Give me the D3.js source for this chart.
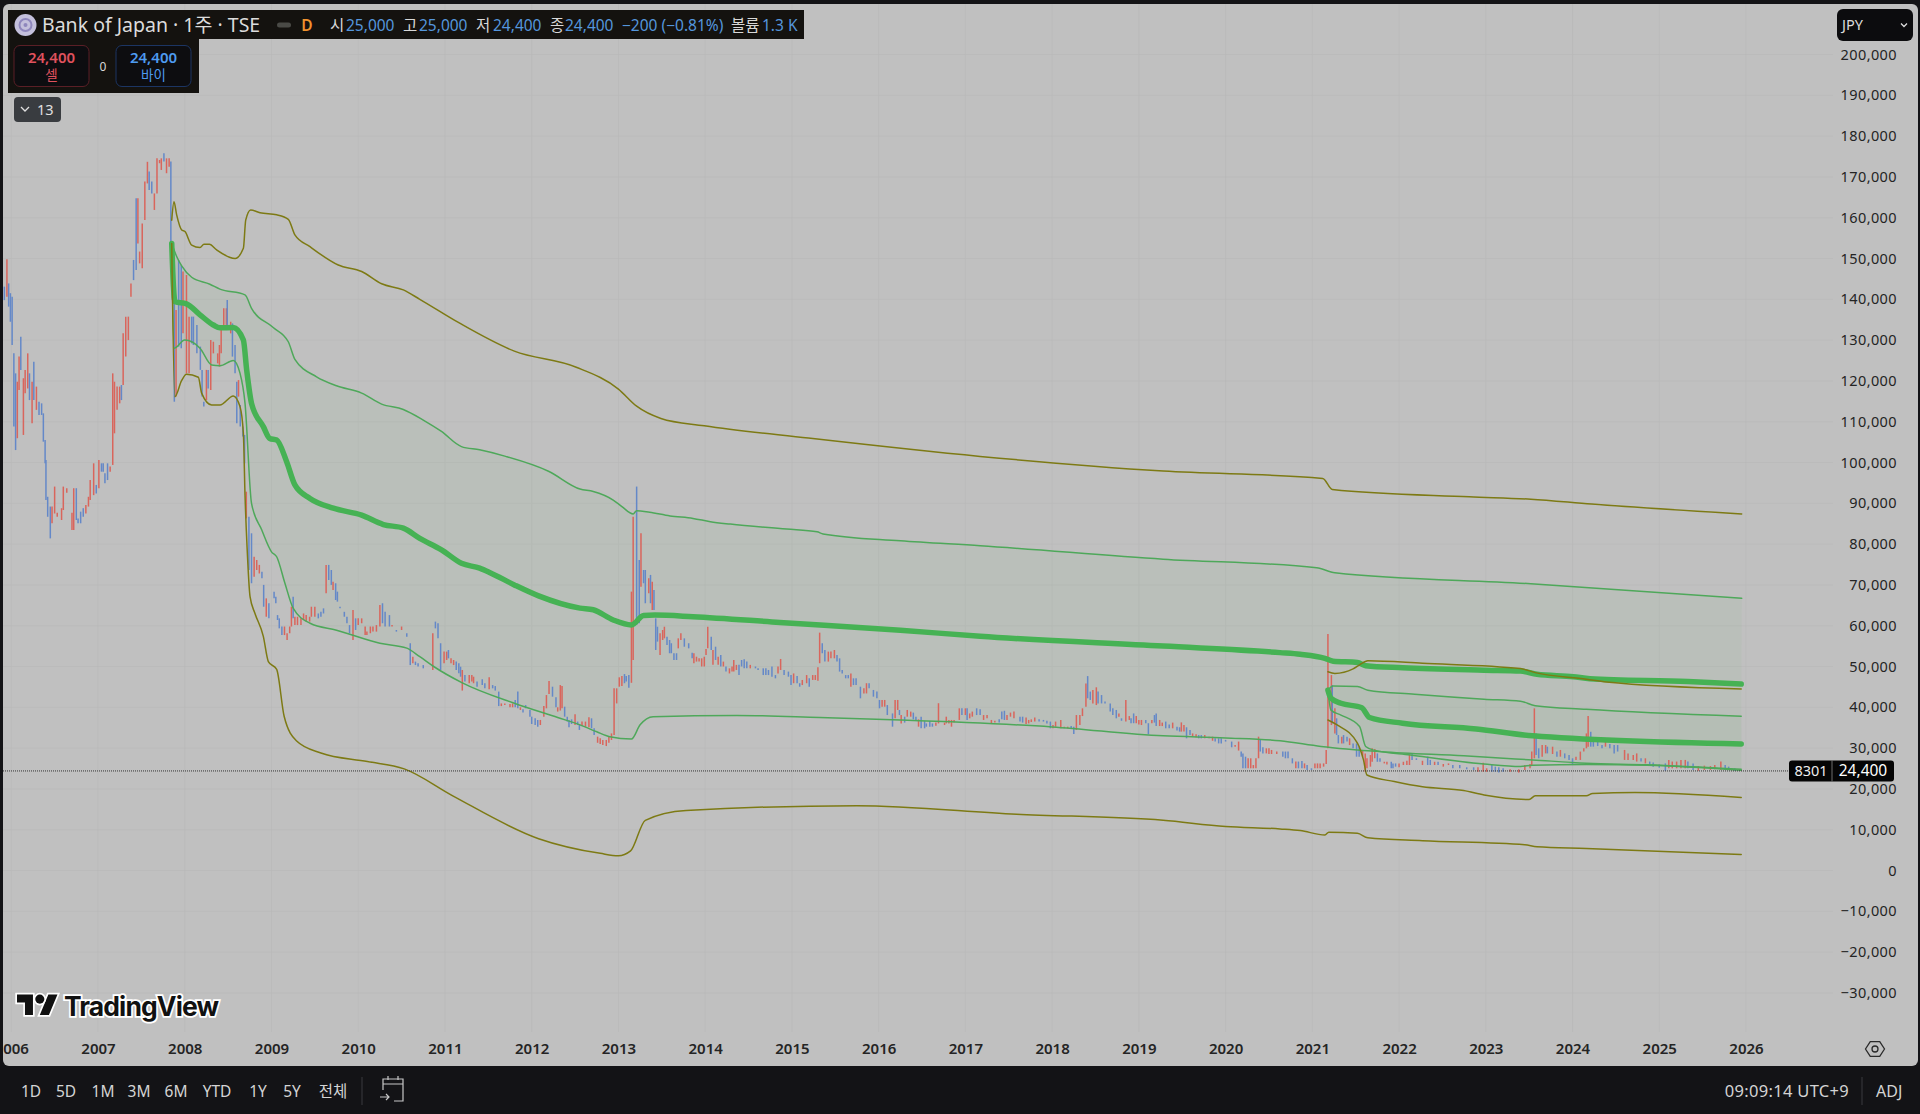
<!DOCTYPE html>
<html>
<head>
<meta charset="utf-8">
<script src="https://cdnjs.cloudflare.com/ajax/libs/d3/7.9.0/d3.min.js"></script>
<style>
  html, body { margin: 0; padding: 0; background: #131316; }
  svg { display: block; }
  text { font-family: "Noto Sans", "Noto Sans CJK KR", sans-serif; }
  .axis path, .axis line { display: none; }
  .axis text { fill: #242424; font-family: "Noto Sans", sans-serif; }
</style>
</head>
<body>
<svg id="chart" width="1920" height="1114"></svg>
<script>
// tick labels
const yearTicks = d3.range(2006, 2027);
const priceTicks = d3.range(-30000, 200001, 10000);
const rangeButtons = ['1D', '5D', '1M', '3M', '6M', 'YTD', '1Y', '5Y', '전체'];

// price bars: [year, low, high, direction]
const bars2006 = [
  [2005.92,139800,143100,-1],[2005.95,140650,149800,1],[2005.97,138200,143900,-1],[2005.99,134500,141500,-1],[2006.01,128800,140650,-1],
  [2006.03,108800,126750,-1],[2006.05,103050,121850,-1],[2006.07,105950,119800,1],[2006.09,117750,125950,1],[2006.11,122700,130850,-1],
  [2006.14,106750,120650,1],[2006.16,116950,122700,1],[2006.19,118150,126750,1],[2006.21,115300,121850,-1],[2006.24,109600,119800,1],
  [2006.26,115300,124700,-1],[2006.29,112900,118600,1],[2006.32,111650,114900,-1],[2006.35,111650,114500,-1],[2006.37,105100,112050,-1],
  [2006.39,99800,105500,-1],[2006.40,90800,100600,-1],[2006.42,86700,91600,-1],[2006.45,81400,89200,-1],[2006.47,85100,89200,1],
  [2006.50,87500,94100,1],[2006.53,86700,87700,1],[2006.58,85900,88800,1],[2006.60,88350,94100,1],[2006.64,92600,93700,1],
  [2006.70,83450,87700,1],[2006.72,83450,93700,1],[2006.75,85900,93700,-1],[2006.77,85100,86300,-1],[2006.80,85100,87950,-1],
  [2006.83,86700,88800,-1],[2006.86,87500,89600,1],[2006.89,89200,91600,1],[2006.91,90800,95700,1],[2006.95,92000,99800,1],
  [2006.98,92400,94500,-1]
];
const bars2007 = [
  [2007.01,93700,100600,1],[2007.04,97750,99800,-1],[2007.06,97750,99800,-1],[2007.08,94900,97350,-1],[2007.11,95700,99800,-1],
  [2007.14,97750,99000,1],[2007.17,99400,121850,1],[2007.19,107150,119800,1],[2007.22,112900,118600,1],[2007.25,114500,118600,1],
  [2007.27,115300,119000,-1],[2007.29,119000,131650,1],[2007.32,125950,135750,1],[2007.35,130000,135750,1],[2007.38,140650,143900,1],
  [2007.41,144700,149650,-1],[2007.44,147200,164750,-1],[2007.46,153700,164750,1],[2007.48,148800,151700,1],[2007.51,147600,158600,1],
  [2007.54,159450,168850,1],[2007.57,168400,173700,1],[2007.59,166800,171300,-1],[2007.62,165950,168850,-1],[2007.65,161900,165950,1],
  [2007.68,165950,174550,1],[2007.71,173350,174150,1],[2007.73,171700,174550,1],[2007.76,173750,175800,-1],[2007.79,170900,174550,1],
  [2007.82,172500,174550,1],[2007.84,152900,173750,-1],[2007.86,139800,153700,-1],[2007.88,114900,139800,-1],[2007.90,116150,137400,1],
  [2007.93,128400,149650,-1],[2007.96,128000,148400,-1],[2007.98,131650,146800,1]
];
const bars2008 = [
  [2008.02,121850,145950,1],[2008.05,121850,135750,1],[2008.08,129200,135750,-1],[2008.10,128800,135750,-1],[2008.14,126750,133700,-1],
  [2008.18,122700,128400,-1],[2008.20,116150,122700,-1],[2008.22,113700,114900,-1],[2008.25,115300,122700,1],[2008.27,118150,122700,-1],
  [2008.30,117750,130000,1],[2008.33,126750,129600,1],[2008.38,124300,126750,1],[2008.40,123500,128800,1],[2008.42,126750,133300,1],
  [2008.45,133300,137800,1],[2008.48,132500,137800,1],[2008.49,132500,139800,-1],[2008.53,131650,134500,1],[2008.55,125950,134100,-1],
  [2008.58,121850,128800,-1],[2008.60,109600,119800,-1],[2008.62,116150,120200,1],[2008.64,108800,114100,-1],[2008.67,106350,108800,-1],
  [2008.69,99800,106750,-1],[2008.71,86300,92850,1],[2008.74,73650,86700,-1],[2008.77,70400,82650,-1],[2008.80,72000,76900,1],
  [2008.83,73650,76100,1],[2008.86,72800,74900,1],[2008.89,71600,73250,-1],[2008.91,64650,70000,-1],[2008.94,62200,66700,1],
  [2008.97,61800,65500,-1]
];
const bars2009 = [
  [2009.03,66700,68350,-1],[2009.05,65500,67100,-1],[2009.07,61400,62600,-1],[2009.09,59350,61800,-1],[2009.12,57700,59800,-1],
  [2009.15,57700,59800,1],[2009.18,56500,58150,1],[2009.21,58150,59800,1],[2009.23,59800,64650,1],[2009.25,61800,67100,-1],
  [2009.27,60150,62200,1],[2009.30,60150,62200,1],[2009.34,60150,61800,1],[2009.37,61400,63000,1],[2009.40,61000,62600,1],
  [2009.44,61000,62200,1],[2009.46,62200,64650,1],[2009.50,62200,64650,1],[2009.54,61800,63000,-1],[2009.57,62200,63400,-1],
  [2009.60,63000,64250,-1],[2009.63,67950,74900,1],[2009.66,71200,74900,-1],[2009.69,70000,73650,-1],[2009.71,68750,70800,1],
  [2009.74,66300,70400,-1],[2009.76,65900,68350,-1],[2009.79,64250,64650,-1],[2009.84,62200,63400,-1],[2009.87,60600,62200,-1],
  [2009.90,58150,60150,-1],[2009.94,56500,63850,1],[2009.97,58950,61800,-1]
];
const bars2010 = [
  [2010.00,60150,61800,1],[2010.04,60600,61800,1],[2010.08,57700,59800,1],[2010.10,57700,58550,1],[2010.14,58150,59800,1],
  [2010.17,58550,59800,1],[2010.21,58550,60150,1],[2010.25,59800,65100,1],[2010.28,60600,65500,-1],[2010.31,59800,63400,-1],
  [2010.36,59800,62600,-1],[2010.39,59800,60150,1],[2010.44,58550,58950,-1],[2010.50,58950,59800,1],[2010.56,57300,58150,-1],
  [2010.60,50350,55700,-1],[2010.63,50800,52400,1],[2010.66,50350,51200,-1],[2010.69,50000,50800,-1],[2010.75,49550,50350,-1],
  [2010.86,49150,58150,1],[2010.89,59350,61000,-1],[2010.92,56900,60600,-1],[2010.95,49150,55700,-1],[2010.99,50800,53650,1]
];
const bars2011 = [
  [2011.02,51600,53650,1],[2011.04,52000,54050,-1],[2011.07,50800,52000,1],[2011.10,50350,51600,1],[2011.13,49150,51200,-1],
  [2011.16,48350,50800,-1],[2011.18,47500,49950,-1],[2011.20,44100,49150,1],[2011.23,46300,47900,-1],[2011.28,45900,47900,1],
  [2011.31,46300,47900,1],[2011.33,45900,47500,1],[2011.37,45050,46300,-1],[2011.43,45450,46850,-1],[2011.46,44650,45900,-1],
  [2011.51,44400,47350,1],[2011.55,44650,45450,-1],[2011.58,44100,45200,-1],[2011.62,40300,43850,-1],[2011.65,40300,40950,1],
  [2011.69,40550,40950,1],[2011.75,40000,40800,1],[2011.78,40000,40950,1],[2011.81,40000,41800,-1],[2011.84,39750,43850,-1],
  [2011.87,39350,40000,1],[2011.90,38700,39500,-1],[2011.93,39750,40550,-1],[2011.98,37700,39350,-1]
];
const bars2012 = [
  [2012.00,35900,37700,-1],[2012.04,35650,37300,-1],[2012.07,35250,36900,-1],[2012.10,35650,36900,1],[2012.14,37700,40300,1],
  [2012.17,39750,43000,1],[2012.20,43250,46450,1],[2012.24,42600,45050,-1],[2012.28,40000,42450,-1],[2012.30,38950,40000,1],
  [2012.33,39200,45450,1],[2012.35,39750,45200,1],[2012.38,37700,40150,-1],[2012.41,36500,37700,-1],[2012.43,35100,36900,-1],
  [2012.46,35900,37050,-1],[2012.50,35650,38300,1],[2012.53,35650,36500,-1],[2012.55,34450,35800,-1],[2012.58,35400,36500,1],
  [2012.62,35250,36500,1],[2012.66,35100,37550,1],[2012.69,34850,37300,-1],[2012.72,33200,34850,-1],[2012.76,31300,32800,1],
  [2012.79,31000,32400,1],[2012.82,30750,32000,1],[2012.86,30500,32000,1],[2012.89,31300,32800,1],[2012.92,32000,33600,1],
  [2012.95,33200,44650,1],[2012.98,40950,44650,1]
];
const bars2013 = [
  [2013.01,45050,47350,1],[2013.04,45200,47700,1],[2013.07,45900,48150,-1],[2013.09,46300,47700,-1],[2013.12,44800,47900,-1],
  [2013.15,46000,68350,1],[2013.17,51600,86700,1],[2013.21,60200,94100,-1],[2013.24,60600,76100,-1],[2013.26,69550,82650,1],
  [2013.29,70400,73650,-1],[2013.31,65500,73650,-1],[2013.35,67950,71600,1],[2013.37,65500,72450,-1],[2013.39,63850,70800,1],
  [2013.41,63850,68750,-1],[2013.43,54050,61800,-1],[2013.45,56100,59750,-1],[2013.48,52800,58150,1],[2013.51,56500,58950,1],
  [2013.53,56900,59750,1],[2013.56,55300,57300,-1],[2013.59,53250,56500,-1],[2013.61,53250,55700,-1],[2013.64,51600,53250,-1],
  [2013.67,51600,53250,-1],[2013.69,54450,56900,1],[2013.72,56500,58150,1],[2013.76,54850,56900,-1],[2013.81,54450,55700,-1],
  [2013.85,52000,53400,-1],[2013.87,50800,53250,1],[2013.90,51200,52400,1],[2013.93,51200,52000,1],[2013.96,50000,52000,1],
  [2013.99,50000,52400,1]
];
const bars2014 = [
  [2014.01,52800,54300,1],[2014.03,54450,59750,1],[2014.07,54050,57300,-1],[2014.09,50400,54050,1],[2014.12,51600,54850,-1],
  [2014.15,50400,52400,1],[2014.18,50000,52800,-1],[2014.21,50000,51200,1],[2014.24,48750,50000,-1],[2014.28,48300,49550,1],
  [2014.31,48750,50000,1],[2014.33,48750,51600,1],[2014.36,49150,50400,1],[2014.39,47900,50400,-1],[2014.42,50000,51600,-1],
  [2014.45,49550,51750,-1],[2014.48,49550,51200,-1],[2014.52,49550,50400,1],[2014.58,49550,50000,-1],[2014.61,49150,49550,-1],
  [2014.67,47900,49550,-1],[2014.70,47900,49550,-1],[2014.73,47900,49150,-1],[2014.77,47500,50000,-1],[2014.81,47100,47900,-1],
  [2014.84,48300,50000,1],[2014.87,49150,51850,1],[2014.91,47900,49150,-1],[2014.96,47500,48750,-1],[2014.99,45450,47900,-1]
];
const bars2015 = [
  [2015.02,45900,48300,1],[2015.06,45900,47700,-1],[2015.09,45050,45900,-1],[2015.12,45450,46700,1],[2015.17,45900,47900,1],
  [2015.20,45050,47100,-1],[2015.24,46700,47900,1],[2015.27,46700,47900,1],[2015.30,46500,49800,1],[2015.32,50800,58300,1],
  [2015.35,53250,55700,-1],[2015.38,51200,54050,-1],[2015.42,51200,53650,1],[2015.45,52000,53650,1],[2015.49,52000,54050,1],
  [2015.52,51200,52800,-1],[2015.55,48750,52000,-1],[2015.58,48300,49150,-1],[2015.62,47100,47900,-1],[2015.65,47100,47900,-1],
  [2015.68,45050,48300,1],[2015.71,45450,47100,-1],[2015.74,45450,47100,-1],[2015.79,42200,45050,-1],[2015.83,43400,44650,1],
  [2015.86,43400,45900,1],[2015.89,44650,45900,-1],[2015.94,42600,44250,-1],[2015.98,42200,43850,-1]
];
const bars2016 = [
  [2016.01,39750,41800,-1],[2016.04,40150,41800,1],[2016.07,40150,41800,1],[2016.10,38100,40550,-1],[2016.16,35250,38500,-1],
  [2016.19,37300,41800,1],[2016.22,39350,41800,1],[2016.24,38100,39350,-1],[2016.26,36050,38100,1],[2016.30,36250,37700,-1],
  [2016.33,37700,39350,1],[2016.37,37700,38950,1],[2016.40,37050,38700,-1],[2016.43,36900,37700,-1],[2016.46,35250,37050,1],
  [2016.49,34850,37700,-1],[2016.53,34850,36650,-1],[2016.55,35250,36050,-1],[2016.59,35250,36650,-1],[2016.62,35250,36050,-1],
  [2016.66,35500,36250,1],[2016.69,36050,41000,1],[2016.76,35650,36250,1],[2016.78,36050,37700,1],[2016.81,36050,36900,1],
  [2016.84,35250,36900,1],[2016.87,36250,36900,1],[2016.93,36900,39750,1],[2016.96,38100,39750,-1]
];
const bars2017 = [
  [2017.00,38100,39750,1],[2017.02,36900,39750,-1],[2017.05,37300,38500,1],[2017.08,37700,38950,1],[2017.13,38100,39750,-1],
  [2017.17,38100,39500,-1],[2017.21,36900,38100,1],[2017.25,37300,38100,1],[2017.30,36050,36900,1],[2017.34,36300,36700,1],
  [2017.39,36250,37050,-1],[2017.42,37050,38950,-1],[2017.45,36900,39150,-1],[2017.48,36900,38100,1],[2017.52,37700,38700,1],
  [2017.56,37300,38950,1],[2017.63,36500,37700,-1],[2017.66,36250,37700,-1],[2017.70,35900,37500,1],[2017.73,36050,36900,1],
  [2017.76,36400,37050,1],[2017.80,36500,37500,1],[2017.85,36500,37050,-1],[2017.90,36500,36900,-1],[2017.94,36050,36700,-1],
  [2017.98,34850,36500,-1]
];
const bars2018 = [
  [2018.01,34850,35650,1],[2018.04,35250,36500,1],[2018.10,34850,36900,1],[2018.14,34850,35250,1],[2018.18,34850,35250,1],
  [2018.22,34850,35400,-1],[2018.25,33450,35250,-1],[2018.28,34450,38100,1],[2018.32,35650,38100,1],[2018.35,37850,39750,1],
  [2018.39,40150,45850,1],[2018.41,42200,47650,-1],[2018.44,41800,43850,-1],[2018.47,40950,44250,1],[2018.51,40550,44900,1],
  [2018.53,40950,43850,-1],[2018.57,40950,43000,-1],[2018.61,40950,41400,-1],[2018.67,38950,40950,-1],[2018.70,38100,39750,-1],
  [2018.74,37300,39350,-1],[2018.77,37700,38500,1],[2018.80,36700,37300,-1],[2018.85,36500,41800,1],[2018.89,36900,37850,1],
  [2018.91,36100,37300,-1],[2018.94,36100,38500,-1],[2018.97,36100,37850,1]
];
const bars2019 = [
  [2019.00,35800,36900,1],[2019.03,35650,36900,1],[2019.08,36100,36900,-1],[2019.11,33400,36100,-1],[2019.15,36100,36900,1],
  [2019.18,36250,38100,-1],[2019.20,35400,38500,-1],[2019.24,35400,36900,1],[2019.27,35400,36250,1],[2019.31,34850,36500,-1],
  [2019.35,34850,35800,-1],[2019.39,34850,36250,1],[2019.44,34300,35250,-1],[2019.47,34050,35100,-1],[2019.49,34050,36300,1],
  [2019.52,34050,35650,1],[2019.55,32400,35100,-1],[2019.59,33200,34450,-1],[2019.62,32950,33600,1],[2019.66,32650,33400,1],
  [2019.69,32400,33200,-1],[2019.72,32400,33200,-1],[2019.76,32400,33200,1],[2019.81,32400,32800,1],[2019.85,31800,32800,1],
  [2019.88,31600,32400,-1],[2019.92,31150,32400,-1],[2019.95,31150,32400,-1]
];
const bars2020 = [
  [2020.00,31600,32000,-1],[2020.07,30200,31600,-1],[2020.11,30350,30750,1],[2020.15,29400,31600,1],[2020.18,27900,29150,-1],
  [2020.20,25050,28700,-1],[2020.23,25050,27900,-1],[2020.26,25050,27500,1],[2020.29,25050,27500,1],[2020.32,25050,25850,1],
  [2020.35,25050,27500,1],[2020.38,27500,32800,1],[2020.40,29150,32000,-1],[2020.43,28700,30200,-1],[2020.47,28700,29950,1],
  [2020.50,28550,29950,1],[2020.53,28550,29550,1],[2020.59,28550,29150,1],[2020.66,27900,29150,-1],[2020.69,27500,29150,-1],
  [2020.72,27500,29150,-1],[2020.77,26250,27500,-1],[2020.81,25050,26700,1],[2020.84,25050,26700,-1],[2020.88,25050,26850,-1],
  [2020.91,25050,26250,1],[2020.94,24650,25850,-1],[2020.99,24650,25050,-1]
];
const bars2021 = [
  [2021.03,25050,26250,1],[2021.06,25050,26250,1],[2021.09,25050,26250,1],[2021.13,25450,26250,1],[2021.16,26100,29550,1],
  [2021.18,29950,57950,1],[2021.22,35650,47900,1],[2021.23,36050,45450,-1],[2021.26,33600,39750,1],[2021.28,33200,37300,-1],
  [2021.30,31150,33200,-1],[2021.34,31150,32800,1],[2021.36,31150,33200,-1],[2021.40,31600,32800,-1],[2021.43,30750,32400,1],
  [2021.47,29950,31150,-1],[2021.51,27900,31150,-1],[2021.54,27900,30350,-1],[2021.58,27900,29550,1],[2021.61,24200,28700,1],
  [2021.63,25050,27500,1],[2021.67,25450,28300,1],[2021.69,26650,29950,1],[2021.72,27500,29800,1],[2021.75,26650,28700,-1],
  [2021.78,26650,27500,-1],[2021.83,26250,26650,1],[2021.86,26000,26650,1],[2021.91,25050,26650,-1],[2021.93,25050,26250,-1],
  [2021.96,25450,26250,-1]
];
const bars2022 = [
  [2022.00,25300,26250,1],[2022.05,25850,26650,1],[2022.09,25850,26900,1],[2022.12,25850,28700,1],[2022.15,27100,28700,-1],
  [2022.20,27100,27500,-1],[2022.27,25850,26900,1],[2022.33,25850,27900,-1],[2022.36,25850,27100,-1],[2022.41,25850,26650,1],
  [2022.45,25850,26650,-1],[2022.51,25450,26100,1],[2022.57,25850,26250,1],[2022.62,25050,25850,-1],[2022.70,25050,25850,-1],
  [2022.78,24800,25300,-1],[2022.86,24650,25300,-1],[2022.91,24200,25300,1],[2022.97,24200,26400,1]
];
const bars2023 = [
  [2023.01,24200,25050,1],[2023.07,24200,25850,-1],[2023.11,24200,25450,-1],[2023.15,24000,25300,-1],[2023.20,24200,25050,-1],
  [2023.28,24200,24800,1],[2023.38,24000,24800,1],[2023.45,24650,25850,1],[2023.51,25050,26100,1],[2023.53,25850,29150,1],
  [2023.56,27500,39750,1],[2023.58,28300,33600,-1],[2023.61,27500,29950,-1],[2023.65,27900,30750,1],[2023.69,28700,30750,1],
  [2023.71,28700,30350,-1],[2023.77,28550,30350,1],[2023.82,27900,29150,-1],[2023.86,27900,29550,1],[2023.91,27500,28700,-1],
  [2023.96,27100,28300,-1]
];
const bars2024 = [
  [2024.00,25850,27500,-1],[2024.04,27100,27900,1],[2024.09,27100,29150,1],[2024.13,29150,29950,1],[2024.16,29950,33600,1],
  [2024.18,30350,37850,1],[2024.21,30350,34000,-1],[2024.24,30350,32400,-1],[2024.29,30500,32400,-1],[2024.34,29950,30750,-1],
  [2024.38,30350,31600,1],[2024.43,29950,31000,-1],[2024.48,28700,30750,-1],[2024.52,29150,30750,-1],[2024.60,27100,29550,1],
  [2024.64,27100,28700,1],[2024.70,27100,28300,1],[2024.74,26700,28700,1],[2024.79,26700,27500,-1],[2024.84,26250,27500,1],
  [2024.89,26100,26700,-1],[2024.93,25450,26450,-1]
];
const bars2025 = [
  [2025.00,25200,26000,-1],[2025.07,24450,26250,-1],[2025.11,25050,27100,1],[2025.15,25050,26700,1],[2025.20,25050,26700,1],
  [2025.25,25050,27100,1],[2025.30,25050,27100,1],[2025.33,25050,26700,-1],[2025.39,24650,26250,-1],[2025.45,24450,25600,1],
  [2025.52,24650,25700,1],[2025.59,24650,25600,1],[2025.64,24800,25850,1],[2025.71,24650,26700,1],[2025.76,24650,25850,-1],
  [2025.80,24650,25450,-1],[2025.87,24450,25050,-1],[2025.93,24400,24850,1]
];

// anchored band from late 2007: [year, price]
const upperOuter2007 = [
  [2007.85,159400],[2007.876,163900],[2007.907,160700],[2007.965,157000],[2008.003,156600],[2008.08,153300],[2008.176,152700],
  [2008.222,153500],[2008.284,153500],[2008.368,152100],[2008.58,150000],[2008.676,152500],[2008.703,159400],[2008.76,161900],
  [2008.868,161200],[2009.06,160700],[2009.194,159600],[2009.27,155800],[2009.444,152900],[2009.77,148400],[2010.04,146800],
  [2010.27,143800],[2010.52,142300],[2010.71,140000],[2011.165,134200],[2011.80,127300],[2012.506,123400],[2013.0,118000],
  [2013.21,113800],[2013.49,110800],[2013.99,109000],[2015.19,106000],[2017.17,101500],[2019.28,97900],[2021.12,96100],
  [2021.23,93400],[2022.81,91600],[2023.52,91000],[2024.22,89800],[2025.95,87400]
];
const upperInner2007 = [
  [2007.85,153700],[2007.907,150500],[2007.965,148200],[2008.08,145400],[2008.29,143700],[2008.406,142500],[2008.695,141100],
  [2008.77,137800],[2009.02,133100],[2009.194,129600],[2009.27,125300],[2009.52,121000],[2009.75,118800],[2010.04,117000],
  [2010.27,114300],[2010.52,113000],[2010.75,110400],[2010.96,107600],[2011.19,103900],[2011.40,103100],[2011.7,101500],
  [2012.2,97800],[2012.557,93500],[2012.71,92900],[2012.94,90800],[2013.04,89200],[2013.17,87400],[2013.21,88200],
  [2013.36,87800],[2013.595,86900],[2013.86,86300],[2014.06,85500],[2014.29,84900],[2014.94,83700],[2015.29,83000],
  [2015.36,82500],[2016.25,80800],[2017.17,79600],[2019.28,76300],[2021.05,74200],[2021.26,73000],[2023.52,70300],[2025.95,66700]
];
const vwap2007 = [
  [2007.85,153700],[2007.87,143100],[2007.888,139400],[2008.02,138900],[2008.176,136200],[2008.33,133700],[2008.406,133000],
  [2008.56,133100],[2008.676,130000],[2008.714,122700],[2008.77,114500],[2008.906,108800],[2008.98,105900],[2009.06,105500],
  [2009.175,100200],[2009.27,94500],[2009.444,91200],[2009.713,88800],[2010.04,87100],[2010.29,84800],[2010.52,83900],
  [2010.71,81400],[2010.96,78600],[2011.19,75300],[2011.40,74100],[2011.52,73000],[2011.80,70000],[2012.08,67300],
  [2012.557,64300],[2012.71,63900],[2012.94,61400],[2013.15,60200],[2013.29,62500],[2013.42,62600],[2013.86,62200],
  [2014.86,60800],[2016.25,58900],[2017.17,57400],[2019.28,55000],[2020.627,53400],[2020.86,53000],[2021.145,52000],
  [2021.24,51300],[2021.52,51000],[2021.615,50200],[2022.04,49700],[2022.98,49100],[2023.4,48900],[2023.59,48100],
  [2024.01,47500],[2024.2,47000],[2025.33,46300],[2025.945,45700]
];
const lowerInner2007 = [
  [2007.85,153700],[2007.876,128000],[2008.0,130000],[2008.176,128000],[2008.31,123900],[2008.406,123700],[2008.56,125000],
  [2008.637,121900],[2008.695,114500],[2008.77,90000],[2008.887,83500],[2009.0,78100],[2009.06,76900],[2009.155,70400],
  [2009.25,64300],[2009.445,60600],[2009.75,58900],[2010.25,55700],[2010.56,54500],[2010.71,52400],[2010.87,50000],
  [2011.2,46000],[2011.8,41000],[2012.3,37500],[2012.557,35700],[2012.75,34000],[2012.9,32800],[2013.15,32200],[2013.25,35700],
  [2013.4,37700],[2014.36,38000],[2015.32,37500],[2016.25,36900],[2018.0,35200],[2019.28,33000],[2020.0,32500],[2020.627,31800],
  [2021.1,30400],[2021.8,29100],[2022.745,28100],[2023.54,27100],[2024.16,26300],[2024.86,25900],[2025.945,24800]
];
const lowerOuter2007 = [
  [2007.85,153700],[2007.885,116100],[2007.965,120100],[2008.02,121600],[2008.157,120900],[2008.195,117000],[2008.31,114100],
  [2008.406,114100],[2008.56,116300],[2008.637,113700],[2008.676,107150],[2008.695,92000],[2008.72,78600],[2008.753,67100],
  [2008.81,63000],[2008.906,57400],[2008.964,51200],[2009.06,49300],[2009.146,37800],[2009.287,31800],[2009.57,28800],
  [2010.106,26700],[2010.53,24900],[2011.09,18300],[2012.08,7800],[2012.79,4200],[2013.0,3600],[2013.14,4800],[2013.31,12300],
  [2013.78,14700],[2015.75,15900],[2017.59,13800],[2019.28,12300],[2020.0,10800],[2020.627,10200],[2020.86,9800],[2021.145,8700],
  [2021.19,9400],[2021.52,9100],[2021.64,8000],[2022.27,7300],[2023.45,6300],[2023.59,5800],[2024.16,5400],[2025.945,3900]
];

// anchored band from early 2021
const upperOuter2021 = [
  [2021.18,48700],[2021.26,48300],[2021.47,49400],[2021.545,50400],[2021.64,51400],[2022.27,50800],[2023.4,49500],
  [2023.57,48500],[2024.16,46900],[2024.39,46200],[2025.945,44500]
];
const upperInner2021 = [
  [2021.18,44200],[2021.24,45200],[2021.52,45100],[2021.64,44200],[2022.18,43200],[2022.98,42000],[2023.4,41500],
  [2023.57,40400],[2024.16,39500],[2025.945,37800]
];
const vwap2021 = [
  [2021.18,44200],[2021.215,42200],[2021.33,41000],[2021.57,39900],[2021.66,37500],[2022.04,36100],[2022.89,34700],
  [2023.54,33000],[2025.945,31000]
];
const lowerInner2021 = [
  [2021.18,44200],[2021.215,39300],[2021.33,38100],[2021.545,35300],[2021.615,30400],[2021.71,29500],[2022.13,28300],
  [2022.98,26100],[2023.4,25500],[2023.54,25800],[2024.16,26000],[2024.86,25800],[2025.945,24600]
];
const lowerOuter2021 = [
  [2021.18,36900],[2021.286,35700],[2021.52,31200],[2021.59,27100],[2021.63,23400],[2021.945,21800],[2022.27,20500],
  [2022.745,19600],[2022.98,18500],[2023.5,17400],[2023.57,18300],[2024.16,18300],[2024.23,18900],[2024.72,19100],[2025.945,17900]
];
const lastPrice = 24400;

const priceBars = [].concat(bars2006, bars2007, bars2008, bars2009, bars2010, bars2011, bars2012, bars2013, bars2014,
  bars2015, bars2016, bars2017, bars2018, bars2019, bars2020, bars2021, bars2022, bars2023, bars2024, bars2025);

const svg = d3.select('#chart');
const plot = { left: 3, top: 4, right: 1833, bottom: 1032 };

const x = d3.scaleLinear().domain([2007, 2026]).range([98, 1746]);
const y = d3.scaleLinear().domain([0, 200000]).range([870.5, 54.5]);

svg.append('defs').append('clipPath').attr('id', 'plot-clip')
  .append('rect').attr('x', 3).attr('y', 4).attr('width', 1915).attr('height', 1062);

// panel
svg.append('rect').attr('width', 1920).attr('height', 1114).attr('fill', '#131316');
svg.append('rect').attr('x', 3).attr('y', 4).attr('width', 1915).attr('height', 1062)
  .attr('rx', 6).attr('fill', '#c0c0c0');

const chart = svg.append('g').attr('clip-path', 'url(#plot-clip)');

// grid
chart.append('g').selectAll('line').data(priceTicks).join('line')
  .attr('x1', plot.left).attr('x2', plot.right)
  .attr('y1', d => y(d)).attr('y2', d => y(d))
  .attr('stroke', '#b9b9b9').attr('stroke-width', 0.7);
chart.append('g').selectAll('line').data(yearTicks).join('line')
  .attr('x1', d => x(d)).attr('x2', d => x(d))
  .attr('y1', plot.top).attr('y2', plot.bottom)
  .attr('stroke', '#b9b9b9').attr('stroke-width', 0.7);

const line = d3.line().x(d => x(d[0])).y(d => y(d[1]));
const bandLine = d3.line().x(d => x(d[0])).y(d => y(d[1])).curve(d3.curveMonotoneX);

// shaded zones between the inner bands
[[upperInner2007, lowerInner2007], [upperInner2021, lowerInner2021]].forEach(([upper, lower]) => {
  chart.append('path')
    .attr('d', line(upper.concat(lower.slice().reverse())) + 'Z')
    .attr('fill', '#4caf50').attr('fill-opacity', 0.045);
});

// price bars
chart.append('g').selectAll('line').data(priceBars).join('line')
  .attr('x1', d => x(d[0])).attr('x2', d => x(d[0]))
  .attr('y1', d => y(d[1])).attr('y2', d => y(d[2]))
  .attr('stroke', d => d[3] > 0 ? '#d9655c' : '#6488c8')
  .attr('stroke-width', 1.5);

// band lines
const bandLines = [
  [upperInner2007, '#4ea85a', 1.5], [lowerInner2007, '#4ea85a', 1.5],
  [upperInner2021, '#4ea85a', 1.5], [lowerInner2021, '#4ea85a', 1.5],
  [vwap2007, '#46b254', 5.5], [vwap2021, '#46b254', 5.5],
  [upperOuter2007, '#7d7a14', 1.5], [lowerOuter2007, '#7d7a14', 1.5],
  [upperOuter2021, '#7d7a14', 1.5], [lowerOuter2021, '#7d7a14', 1.5]
];
chart.append('g').selectAll('path').data(bandLines).join('path')
  .attr('d', d => bandLine(d[0]))
  .attr('fill', 'none')
  .attr('stroke', d => d[1])
  .attr('stroke-width', d => d[2])
  .attr('stroke-linejoin', 'round')
  .attr('stroke-linecap', 'round');

// last price line
chart.append('line')
  .attr('x1', plot.left).attr('x2', 1789)
  .attr('y1', y(lastPrice)).attr('y2', y(lastPrice))
  .attr('stroke', '#333').attr('stroke-width', 1).attr('stroke-dasharray', '1 1');

// axes
const yAxis = d3.axisRight(y).tickValues(priceTicks).tickSize(0).tickPadding(0)
  .tickFormat(d => d3.format(',')(d).replace('-', '−'));
const yAxisG = svg.append('g').attr('class', 'axis').attr('transform', 'translate(1897,0)').call(yAxis);
yAxisG.selectAll('text').attr('text-anchor', 'end').style('font-size', '14.5px').style('letter-spacing', '0.4px');

const xAxis = d3.axisBottom(x).tickValues(yearTicks).tickSize(0).tickPadding(0).tickFormat(d3.format('d'));
const xAxisG = chart.append('g').attr('class', 'axis').attr('transform', 'translate(0,1040)').call(xAxis);
xAxisG.selectAll('text').style('font-size', '15px').style('font-weight', 600).attr('dy', '0.71em').attr('y', 3);

// price label
const priceTag = svg.append('g');
priceTag.append('rect').attr('x', 1789).attr('y', y(lastPrice) - 10.5).attr('width', 105).attr('height', 21)
  .attr('rx', 3).attr('fill', '#050505');
priceTag.append('line').attr('x1', 1832).attr('x2', 1832)
  .attr('y1', y(lastPrice) - 10.5).attr('y2', y(lastPrice) + 10.5).attr('stroke', '#888').attr('stroke-width', 0.8);
priceTag.append('text').attr('x', 1811).attr('y', y(lastPrice) + 5).attr('text-anchor', 'middle')
  .attr('fill', '#eee').style('font-size', '14.5px').text('8301');
priceTag.append('text').attr('x', 1863).attr('y', y(lastPrice) + 5.5).attr('text-anchor', 'middle')
  .attr('fill', '#fff').style('font-size', '15.5px').text(d3.format(',')(lastPrice));

// currency button
svg.append('rect').attr('x', 1837).attr('y', 9).attr('width', 76).attr('height', 32).attr('rx', 6).attr('fill', '#0c0c0e');
svg.append('text').attr('x', 1842).attr('y', 30).attr('fill', '#ddd').style('font-size', '14.5px').text('JPY');
svg.append('path').attr('d', 'M1901 23.5l3 3 3-3').attr('fill', 'none').attr('stroke', '#ddd').attr('stroke-width', 1.3);

// settings icon
svg.append('path')
  .attr('d', d3.line()(d3.range(6).map(i => [1875 + 9.5 * Math.cos(i * Math.PI / 3), 1049 + 8.5 * Math.sin(i * Math.PI / 3)])) + 'Z')
  .attr('fill', 'none').attr('stroke', '#2a2a2a').attr('stroke-width', 1.3);
svg.append('circle').attr('cx', 1875).attr('cy', 1049).attr('r', 3).attr('fill', 'none').attr('stroke', '#2a2a2a').attr('stroke-width', 1.3);

// legend strip
const legend = svg.append('g');
legend.append('rect').attr('x', 8).attr('y', 10).attr('width', 796).attr('height', 29).attr('fill', '#14120f');
legend.append('rect').attr('x', 8).attr('y', 39).attr('width', 191).attr('height', 54).attr('fill', '#14120f');
legend.append('circle').attr('cx', 25.5).attr('cy', 25).attr('r', 11).attr('fill', '#c4c0dc');
legend.append('circle').attr('cx', 25.5).attr('cy', 25).attr('r', 6).attr('fill', 'none').attr('stroke', '#8f87bd').attr('stroke-width', 2);
legend.append('circle').attr('cx', 25.5).attr('cy', 25).attr('r', 2).attr('fill', '#8f87bd');
legend.append('text').attr('x', 42).attr('y', 32).attr('fill', '#dcdcdc').style('font-size', '19.5px').text('Bank of Japan · 1주 · TSE');
legend.append('rect').attr('x', 277).attr('y', 22.5).attr('width', 14).attr('height', 5).attr('rx', 2.5).attr('fill', '#4a4a46');
legend.append('text').attr('x', 307).attr('y', 31).attr('text-anchor', 'middle').attr('fill', '#f0922e')
  .style('font-size', '15.5px').style('font-weight', 600).text('D');

const legendTexts = [
  ['시', 330, '#d8d8d8'], ['25,000', 346, '#5596dc'], ['고', 403, '#d8d8d8'], ['25,000', 419, '#5596dc'],
  ['저', 476, '#d8d8d8'], ['24,400', 493, '#5596dc'], ['종', 550, '#d8d8d8'], ['24,400', 565, '#5596dc'],
  ['−200 (−0.81%)', 622, '#5596dc'], ['볼륨', 731, '#d8d8d8'], ['1.3 K', 762, '#5596dc']
];
legend.selectAll('text.ohlc').data(legendTexts).join('text').attr('class', 'ohlc')
  .attr('x', d => d[1]).attr('y', 31).attr('fill', d => d[2]).style('font-size', '15.5px').text(d => d[0]);

// sell and buy buttons
[[14, '#e0525e', '#5a1f26', '셀'], [116, '#4e9bf0', '#1c3563', '바이']].forEach(([bx, col, edge, label]) => {
  legend.append('rect').attr('x', bx).attr('y', 45.5).attr('width', 75).attr('height', 41).attr('rx', 6)
    .attr('fill', '#0d0d10').attr('stroke', edge);
  legend.append('text').attr('x', bx + 37.5).attr('y', 63).attr('text-anchor', 'middle').attr('fill', col)
    .style('font-size', '15px').style('font-weight', 600).text('24,400');
  legend.append('text').attr('x', bx + 37.5).attr('y', 80).attr('text-anchor', 'middle').attr('fill', col)
    .style('font-size', '13.5px').text(label);
});
legend.append('text').attr('x', 103).attr('y', 71).attr('text-anchor', 'middle').attr('fill', '#d8d8d8').style('font-size', '12px').text('0');

// collapsed indicators chip
svg.append('rect').attr('x', 14).attr('y', 97).attr('width', 47).attr('height', 25).attr('rx', 4).attr('fill', '#393c40');
svg.append('path').attr('d', 'M21 107l4 4 4-4').attr('fill', 'none').attr('stroke', '#e0e0e0').attr('stroke-width', 1.3);
svg.append('text').attr('x', 37).attr('y', 115).attr('fill', '#e0e0e0').style('font-size', '14.5px').text('13');

// watermark
const mark = svg.append('g').attr('transform', 'translate(17,990) scale(1.14)');
mark.append('path').attr('d', 'M14 22H7V11H0V4h14v18zM28 22h-8l7.5-18h8L28 22z')
  .attr('fill', '#111').attr('stroke', '#fff').attr('stroke-width', 3).attr('paint-order', 'stroke');
mark.append('circle').attr('cx', 20).attr('cy', 8).attr('r', 4)
  .attr('fill', '#111').attr('stroke', '#fff').attr('stroke-width', 3).attr('paint-order', 'stroke');
svg.append('text').attr('x', 64).attr('y', 1016).attr('fill', '#111')
  .attr('stroke', '#fff').attr('stroke-width', 3.5).attr('paint-order', 'stroke')
  .style('font-family', 'Inter, sans-serif').style('font-size', '26.5px').style('font-weight', 700).style('letter-spacing', '-0.9px')
  .text('TradingView');

// bottom toolbar
const rangeCenters = [31, 66, 103, 139, 176, 217, 258, 292, 333];
svg.append('g').selectAll('text').data(rangeButtons).join('text')
  .attr('x', (d, i) => rangeCenters[i]).attr('y', 1097).attr('text-anchor', 'middle')
  .attr('fill', '#d4d4d4').style('font-size', '15.5px').text(d => d);
svg.append('line').attr('x1', 362).attr('x2', 362).attr('y1', 1077).attr('y2', 1105).attr('stroke', '#3a3a3e');
svg.append('path')
  .attr('d', 'M383 1090v-11h20v22h-9M383 1084h20M388 1076v4M398 1076v4M380 1097h9M386 1094l3 3-3 3')
  .attr('fill', 'none').attr('stroke', '#c8c8c8').attr('stroke-width', 1.2);
svg.append('text').attr('x', 1849).attr('y', 1097).attr('text-anchor', 'end').attr('fill', '#d4d4d4')
  .style('font-size', '16.5px').style('letter-spacing', '0.3px').text('09:09:14 UTC+9');
svg.append('line').attr('x1', 1862).attr('x2', 1862).attr('y1', 1077).attr('y2', 1105).attr('stroke', '#3a3a3e');
svg.append('text').attr('x', 1876).attr('y', 1097).attr('fill', '#d4d4d4').style('font-size', '16px').text('ADJ');
</script>
</body>
</html>
